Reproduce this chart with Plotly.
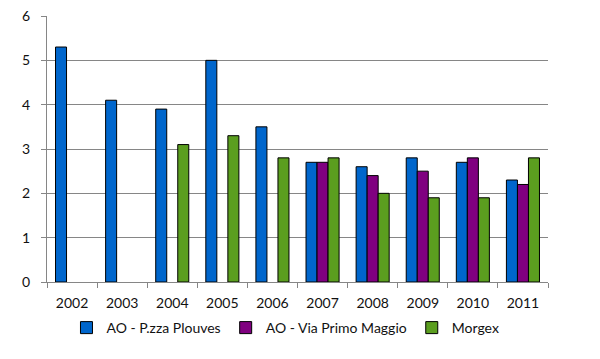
import plotly.graph_objects as go

years = ["2002", "2003", "2004", "2005", "2006", "2007", "2008", "2009", "2010", "2011"]
plouves = [5.3, 4.1, 3.9, 5.0, 3.5, 2.7, 2.6, 2.8, 2.7, 2.3]
primo_maggio = [None, None, None, None, None, 2.7, 2.4, 2.5, 2.8, 2.2]
morgex = [None, None, 3.1, 3.3, 2.8, 2.8, 2.0, 1.9, 1.9, 2.8]
y_ticks = [0, 1, 2, 3, 4, 5, 6]

series = [
    ("AO - P.zza Plouves", plouves, "#0066CC"),
    ("AO - Via Primo Maggio", primo_maggio, "#800080"),
    ("Morgex", morgex, "#5B9E1F"),
]

fig = go.Figure()
for name, vals, col in series:
    fig.add_trace(go.Bar(x=years, y=vals, name=name,
                         marker=dict(color=col, line=dict(color="black", width=1))))

font = dict(family="Lato, 'Open Sans', sans-serif", size=14, color="#111111")
fig.update_layout(
    width=600, height=359,
    margin=dict(l=39, r=60, t=8, b=85),
    paper_bgcolor="white", plot_bgcolor="white",
    barmode="group", bargap=0.34, bargroupgap=0,
    font=font,
    showlegend=True,
    legend=dict(orientation="h", x=0.476, xanchor="center", y=-0.173, yanchor="middle",
                font=font, itemwidth=30, tracegroupgap=0),
    xaxis=dict(type="category", showline=True, linecolor="#868686", linewidth=1,
               ticks="outside", tickson="boundaries", ticklen=5, tickcolor="#868686",
               ticklabelstandoff=8, automargin=False,
               showgrid=False, tickfont=font),
    yaxis=dict(range=[0, 6], tickvals=y_ticks, showline=True, linecolor="#868686", linewidth=1,
               ticks="outside", ticklen=5, tickcolor="#868686", ticklabelstandoff=8,
               automargin=False, ticklabeloverflow="allow",
               showgrid=True, gridcolor="#868686", gridwidth=1, zeroline=False, tickfont=font),
)

fig.write_html("out.html")
